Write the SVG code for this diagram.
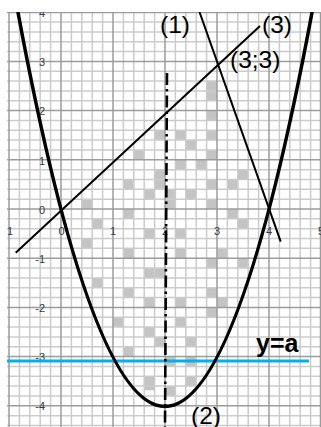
<svg xmlns="http://www.w3.org/2000/svg" width="321" height="427" viewBox="0 0 321 427">
<style>
.sq{fill:#c4c4c4}
.minor{stroke:#cbcbcb;stroke-width:1.5;fill:none}
.major{stroke:#9c9c9c;stroke-width:1.5;fill:none}
.ax{font-family:"Liberation Sans",Arial,sans-serif;font-size:11px;fill:#333a4a}
.ay{text-anchor:end}
.axx{text-anchor:middle}
.lbl{font-family:"Liberation Sans",Arial,sans-serif;font-size:24.5px;fill:#000}
.bold{font-weight:bold;font-size:25px}
.curve{stroke:#000;fill:none;stroke-linecap:butt}
</style>
<defs>
<clipPath id="plot"><rect x="7" y="12" width="314" height="415"/></clipPath>
</defs>
<rect width="321" height="427" fill="#fff"/>
<g id="shading" clip-path="url(#plot)">
<rect class="sq" x="206.6" y="81.08" width="10.4" height="19.68"/>
<rect class="sq" x="206.6" y="110.6" width="10.4" height="9.84"/>
<rect class="sq" x="154.6" y="130.28" width="10.4" height="9.84"/>
<rect class="sq" x="175.4" y="130.28" width="10.4" height="9.84"/>
<rect class="sq" x="206.6" y="130.28" width="10.4" height="9.84"/>
<rect class="sq" x="185.8" y="140.12" width="10.4" height="9.84"/>
<rect class="sq" x="133.8" y="149.96" width="10.4" height="9.84"/>
<rect class="sq" x="206.6" y="149.96" width="10.4" height="9.84"/>
<rect class="sq" x="175.4" y="159.8" width="10.4" height="9.84"/>
<rect class="sq" x="196.2" y="159.8" width="10.4" height="9.84"/>
<rect class="sq" x="154.6" y="169.64" width="10.4" height="19.68"/>
<rect class="sq" x="237.8" y="169.64" width="10.4" height="9.84"/>
<rect class="sq" x="123.4" y="179.48" width="10.4" height="9.84"/>
<rect class="sq" x="206.6" y="179.48" width="10.4" height="9.84"/>
<rect class="sq" x="227.4" y="179.48" width="10.4" height="9.84"/>
<rect class="sq" x="144.2" y="189.32" width="10.4" height="9.84"/>
<rect class="sq" x="165" y="189.32" width="10.4" height="19.68"/>
<rect class="sq" x="185.8" y="189.32" width="10.4" height="9.84"/>
<rect class="sq" x="206.6" y="199.16" width="10.4" height="9.84"/>
<rect class="sq" x="81.8" y="199.16" width="10.4" height="9.84"/>
<rect class="sq" x="123.4" y="209" width="10.4" height="9.84"/>
<rect class="sq" x="227.4" y="209" width="10.4" height="9.84"/>
<rect class="sq" x="92.2" y="218.84" width="10.4" height="9.84"/>
<rect class="sq" x="237.8" y="218.84" width="10.4" height="9.84"/>
<rect class="sq" x="144.2" y="228.68" width="10.4" height="9.84"/>
<rect class="sq" x="175.4" y="228.68" width="10.4" height="9.84"/>
<rect class="sq" x="81.8" y="238.52" width="10.4" height="9.84"/>
<rect class="sq" x="123.4" y="248.36" width="10.4" height="9.84"/>
<rect class="sq" x="175.4" y="248.36" width="10.4" height="9.84"/>
<rect class="sq" x="217" y="248.36" width="10.4" height="9.84"/>
<rect class="sq" x="206.6" y="258.2" width="10.4" height="9.84"/>
<rect class="sq" x="237.8" y="258.2" width="10.4" height="9.84"/>
<rect class="sq" x="144.2" y="268.04" width="20.8" height="9.84"/>
<rect class="sq" x="92.2" y="277.88" width="10.4" height="9.84"/>
<rect class="sq" x="123.4" y="287.72" width="10.4" height="9.84"/>
<rect class="sq" x="206.6" y="287.72" width="10.4" height="9.84"/>
<rect class="sq" x="144.2" y="297.56" width="10.4" height="9.84"/>
<rect class="sq" x="175.4" y="297.56" width="10.4" height="9.84"/>
<rect class="sq" x="217" y="297.56" width="10.4" height="9.84"/>
<rect class="sq" x="206.6" y="307.4" width="10.4" height="9.84"/>
<rect class="sq" x="113" y="317.24" width="10.4" height="9.84"/>
<rect class="sq" x="175.4" y="317.24" width="10.4" height="9.84"/>
<rect class="sq" x="144.2" y="327.08" width="10.4" height="9.84"/>
<rect class="sq" x="154.6" y="336.92" width="10.4" height="9.84"/>
<rect class="sq" x="185.8" y="336.92" width="10.4" height="9.84"/>
<rect class="sq" x="123.4" y="346.76" width="10.4" height="9.84"/>
<rect class="sq" x="165" y="356.6" width="10.4" height="9.84"/>
<rect class="sq" x="185.8" y="356.6" width="10.4" height="9.84"/>
<rect class="sq" x="144.2" y="376.28" width="10.4" height="14"/>
<rect class="sq" x="185.8" y="376.28" width="10.4" height="9.84"/>
<rect class="sq" x="165" y="386.12" width="10.4" height="9.84"/>
</g>
<g id="grid" clip-path="url(#plot)">
<path class="minor" d="M19.4 12V427M29.8 12V427M40.2 12V427M50.6 12V427M71.4 12V427M81.8 12V427M92.2 12V427M102.6 12V427M123.4 12V427M133.8 12V427M144.2 12V427M154.6 12V427M175.4 12V427M185.8 12V427M196.2 12V427M206.6 12V427M227.4 12V427M237.8 12V427M248.2 12V427M258.6 12V427M279.4 12V427M289.8 12V427M300.2 12V427M310.6 12V427
M7 22.04H321M7 31.88H321M7 41.72H321M7 51.56H321M7 71.24H321M7 81.08H321M7 90.92H321M7 100.76H321M7 120.44H321M7 130.28H321M7 140.12H321M7 149.96H321M7 169.64H321M7 179.48H321M7 189.32H321M7 199.16H321M7 218.84H321M7 228.68H321M7 238.52H321M7 248.36H321M7 268.04H321M7 277.88H321M7 287.72H321M7 297.56H321M7 317.24H321M7 327.08H321M7 336.92H321M7 346.76H321M7 366.44H321M7 376.28H321M7 386.12H321M7 395.96H321M7 415.64H321M7 425.48H321"/>
<path class="major" d="M9 12V427M61 12V427M113 12V427M165 12V427M217 12V427M269 12V427M320.5 12V427
M7 12.4H321M7 61.4H321M7 110.6H321M7 159.8H321M7 209H321M7 258.2H321M7 307.4H321M7 356.6H321M7 405.8H321"/>
</g>
<g id="axis-labels" class="ax" clip-path="url(#plot)">
<text class="ay" x="45" y="16.7">4</text>
<text class="ay" x="45" y="66">3</text>
<text class="ay" x="45" y="115">2</text>
<text class="ay" x="45" y="164.5">1</text>
<text class="ay" x="45" y="213.5">0</text>
<text class="ay" x="45" y="262.7">-1</text>
<text class="ay" x="45" y="312">-2</text>
<text class="ay" x="45" y="361">-3</text>
<text class="ay" x="45" y="410">-4</text>
<text class="axx" x="10" y="235">1</text>
<text class="axx" x="61.5" y="235">0</text>
<text class="axx" x="113" y="235">1</text>
<text class="axx" x="165" y="235">2</text>
<text class="axx" x="217" y="235">3</text>
<text class="axx" x="269" y="235">4</text>
<text class="axx" x="321" y="235">5</text>
</g>
<g id="connectors" clip-path="url(#plot)">
<line id="line-a" x1="7" y1="361" x2="309" y2="361" stroke="#00b0f0" stroke-width="3"/>
<line id="line-3" class="curve" x1="15.7" y1="252.7" x2="260" y2="26" stroke-width="2"/>
<line id="line-1" class="curve" x1="199.5" y1="12" x2="280.7" y2="241.7" stroke-width="2"/>
<path id="parabola-2" class="curve" d="M17.9 12Q165 801 312.1 12" stroke-width="3.5"/>
<line id="axis-x2" x1="167" y1="73" x2="165" y2="427" stroke="#000" stroke-width="2.6" stroke-dasharray="12 4 2.5 4"/>
</g>
<g id="label-1"><text class="lbl" x="160" y="32.5">(1)</text></g>
<g id="label-3"><text class="lbl" x="262" y="33">(3)</text></g>
<g id="label-33"><text class="lbl" x="230" y="68">(3;3)</text></g>
<g id="label-2"><text class="lbl" x="191" y="423.5">(2)</text></g>
<g id="label-ya"><text class="lbl bold" x="256" y="352">y=a</text></g>
</svg>
